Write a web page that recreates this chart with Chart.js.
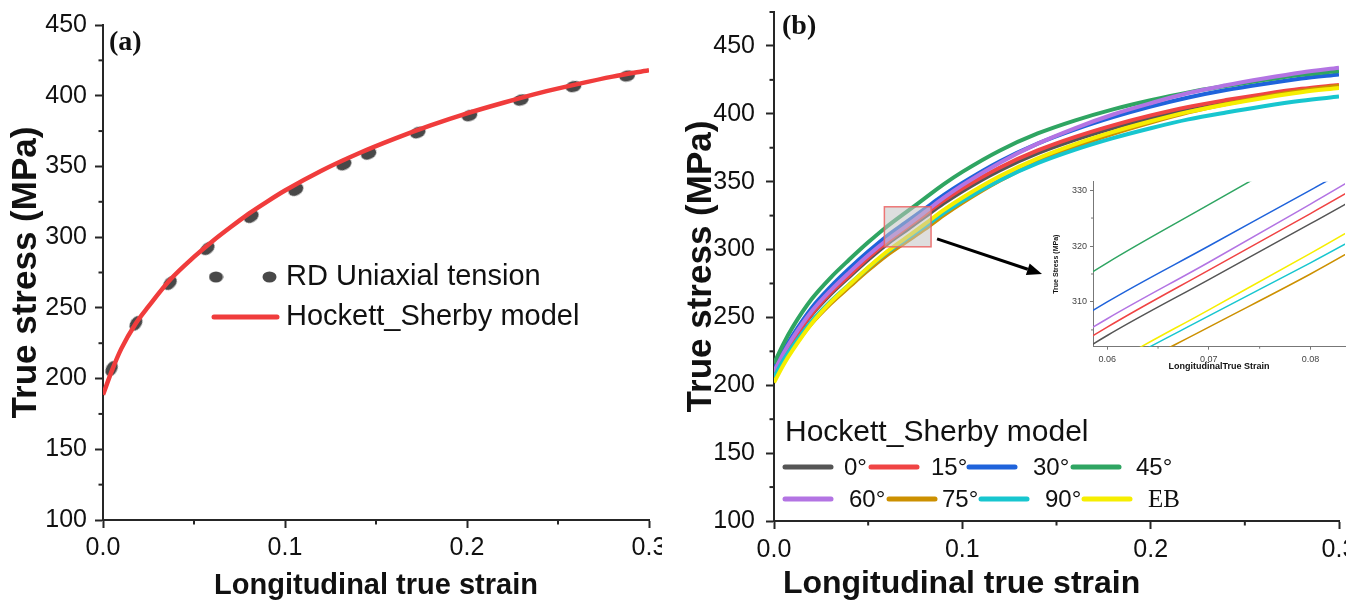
<!DOCTYPE html>
<html>
<head>
<meta charset="utf-8">
<title>True stress - longitudinal true strain</title>
<script src="https://cdn.jsdelivr.net/npm/chart.js@4.4.1/dist/chart.umd.min.js"></script>
<style>
  html, body { margin: 0; padding: 0; background: #fff; }
  body { width: 1365px; height: 603px; position: relative; overflow: hidden; }
  canvas { position: absolute; }
  #chartA { left: 0; top: 0; }
  #chartB { left: 680px; top: 0; }
  #chartInset { left: 1040px; top: 170px; }
</style>
</head>
<body>
<canvas id="chartA" width="662" height="603"></canvas>
<canvas id="chartB" width="666" height="603"></canvas>
<canvas id="chartInset" width="306" height="205"></canvas>
<script>
// (a) RD uniaxial tension: measured points and the Hockett-Sherby fit
const expStrain = [0.0047, 0.0181, 0.0368, 0.0574, 0.0815, 0.106, 0.1324, 0.146, 0.173, 0.2014, 0.2296, 0.2585, 0.288];
const expStress = [207, 239, 267.5, 292, 314.5, 333.5, 351.5, 359, 374, 386, 397, 406.5, 414];
const fitStrain = [0, 0.005, 0.01, 0.018, 0.025, 0.037, 0.05, 0.06, 0.07, 0.08, 0.09, 0.1, 0.12, 0.14, 0.16, 0.18, 0.2, 0.22, 0.24, 0.26, 0.28, 0.3];
const fitStress = [188.5, 206, 221, 239, 251, 270, 286, 297, 307, 316.5, 325, 333, 347, 359, 369.5, 379, 387.5, 395, 402, 408, 413.5, 418];

// (b) Hockett-Sherby curves for each loading direction
const angleStrain = [0, 0.005, 0.01, 0.02, 0.03, 0.04, 0.05, 0.06, 0.07, 0.08, 0.09, 0.1, 0.12, 0.14, 0.16, 0.18, 0.2, 0.22, 0.24, 0.26, 0.28, 0.3];
const stress0  = [209, 222, 233, 252, 267, 280, 292.5, 304, 314, 324, 334, 343, 358.5, 371, 381, 389.5, 396.8, 403.3, 408.5, 413, 417, 420];
const stress15 = [208, 221.5, 233, 252.5, 268, 281, 294, 305.5, 315.7, 325.8, 336, 345, 360.5, 373, 383, 391.5, 398.8, 405.1, 410.1, 414.5, 418.4, 421.3];
const stress30 = [212, 225.5, 237, 257, 272.5, 286, 298.5, 310, 320, 330, 340, 349, 365, 378, 388.5, 397.5, 405.3, 412, 417.5, 422, 426, 429];
const stress45 = [216, 230.5, 243, 263.5, 279.2, 292.6, 305.3, 317, 327.4, 337.7, 348, 357.2, 373, 385.5, 395.2, 403.3, 410, 415.8, 420.5, 424.8, 428.7, 431.6];
const stress60 = [210, 223.5, 235, 254.5, 269.8, 283.2, 295.8, 307, 317.1, 327.5, 338, 347.5, 364, 378, 389.5, 399.5, 407.8, 415.3, 421, 426, 430.5, 434];
const stress75 = [205, 217, 227.5, 245.5, 260, 272.5, 284.7, 295.9, 305.5, 315, 325.2, 334.5, 350.9, 364.5, 375.7, 385.3, 393.6, 401.1, 407.2, 412.4, 417, 420.6];
const stress90 = [206, 218.5, 229, 247.2, 261.7, 274.3, 286.5, 297.8, 307.5, 317, 326.8, 335.8, 351.1, 363.6, 373.6, 382.1, 389.4, 395.9, 401, 405.6, 409.6, 412.7];
const stressEB = [202, 215, 226, 245.5, 261, 274, 286.8, 298.5, 308.6, 318.7, 329, 338.2, 354.2, 367.2, 377.7, 386.7, 394.5, 401.4, 406.9, 411.7, 415.9, 419];
const angleLabels = ['0°', '15°', '30°', '45°', '60°', '75°', '90°', 'EB'];
const angleSeries = [stress0, stress15, stress30, stress45, stress60, stress75, stress90, stressEB];

// axis ranges and ticks
const strainTicks = [0, 0.1, 0.2, 0.3];
const stressRangeA = [100, 450];
const stressRangeB = [100, 475];
const zoomStrain = [0.0586, 0.0834];   // magnified window, shared by box and inset
const zoomStress = [302, 331.5];

const RED = '#f03c3c';
const DOT = '#484848';
const AXIS = '#262626';
const angleColors = ['#555555', '#f04444', '#1f63db', '#2fa562', '#b374e3', '#cc9000', '#17c6cf', '#f6ee00'];

Chart.defaults.font.family = '"Liberation Sans", Arial, Helvetica, sans-serif';
Chart.defaults.color = '#111';

const pts = (xs, ys) => xs.map((x, i) => ({ x, y: ys[i] }));

function makeDot(w, h, color) {
  const c = document.createElement('canvas');
  c.width = w; c.height = h;
  const g = c.getContext('2d');
  g.fillStyle = color;
  g.beginPath();
  g.ellipse(w / 2, h / 2, w / 2 - 0.5, h / 2 - 0.5, 0, 0, Math.PI * 2);
  g.fill();
  return c;
}
const dotImg = makeDot(17, 12, DOT);
const legendDot = makeDot(15, 12, DOT);

// tilt each measured point along the local slope of the curve
function dotRotation(c) {
  const i = c.dataIndex;
  const xs = c.chart.scales.x, ys = c.chart.scales.y;
  if (!xs || !ys) return 0;
  const a = Math.max(i - 1, 0), b = Math.min(i + 1, expStrain.length - 1);
  const dx = xs.getPixelForValue(expStrain[b]) - xs.getPixelForValue(expStrain[a]);
  const dy = ys.getPixelForValue(expStress[b]) - ys.getPixelForValue(expStress[a]);
  return Math.atan2(dy, dx) * 180 / Math.PI;
}

// short ticks between the labelled ones
const minorTicks = {
  id: 'minorTicks',
  afterDraw(chart, args, opts) {
    const { ctx } = chart;
    ctx.save();
    ctx.strokeStyle = opts.color || AXIS;
    ctx.lineWidth = opts.width || 1;
    ['x', 'y'].forEach(id => {
      const scale = chart.scales[id];
      const step = opts[id];
      if (!scale || !step) return;
      const majors = scale.ticks.map(t => t.value);
      const first = Math.ceil(scale.min / step - 1e-9);
      const last = Math.floor(scale.max / step + 1e-9);
      for (let k = first; k <= last; k++) {
        const v = k * step;
        if (majors.some(m => Math.abs(m - v) < step / 100)) continue;
        const p = scale.getPixelForValue(v);
        ctx.beginPath();
        if (id === 'x') { ctx.moveTo(p, scale.top); ctx.lineTo(p, scale.top + opts.length); }
        else { ctx.moveTo(scale.right, p); ctx.lineTo(scale.right - opts.length, p); }
        ctx.stroke();
      }
    });
    ctx.restore();
  }
};
Chart.register(minorTicks);

function panelLabel(text, x, y) {
  return {
    id: 'panelLabel',
    afterDraw(chart) {
      const { ctx } = chart;
      ctx.save();
      ctx.font = 'bold 28px "Liberation Serif", "Times New Roman", serif';
      ctx.fillStyle = '#111';
      ctx.textBaseline = 'middle';
      ctx.fillText(text, x, y);
      ctx.restore();
    }
  };
}

// fixed axis boxes, no extra room for overhanging labels
function noPad(s) { s.paddingTop = s.paddingBottom = s.paddingLeft = s.paddingRight = 0; }

function axes(o) {
  const tickFont = { size: o.tickSize };
  return {
    x: {
      type: 'linear', min: o.xMin, max: o.xMax,
      grid: { drawOnChartArea: false, tickLength: o.tickLen, tickWidth: o.lw, tickColor: o.color },
      border: { color: o.color, width: o.lw },
      ticks: { stepSize: o.xStep, includeBounds: false, padding: o.xPad, maxRotation: 0, font: tickFont, color: o.labelColor, callback: v => v.toFixed(o.xDigits) },
      title: { display: true, text: o.xTitle, align: o.xAlign || 'center', font: { size: o.xTitleSize, weight: 'bold' }, color: '#111', padding: { top: 0, bottom: o.xTitlePad } },
      afterFit: s => { s.height = o.xHeight; noPad(s); }
    },
    y: {
      type: 'linear', min: o.yMin, max: o.yMax,
      grid: { drawOnChartArea: false, tickLength: o.tickLen, tickWidth: o.lw, tickColor: o.color },
      border: { color: o.color, width: o.lw },
      ticks: { stepSize: o.yStep, includeBounds: false, padding: o.yPad, font: tickFont, color: o.labelColor },
      title: { display: true, text: o.yTitle, font: { size: o.yTitleSize, weight: 'bold' }, color: '#111', padding: { top: o.yTitlePad, bottom: 0 } },
      afterFit: s => { s.width = o.yWidth; noPad(s); }
    }
  };
}

// ---------- (a) ----------
const legendA = {
  id: 'legendA',
  afterDraw(chart) {
    const { ctx } = chart;
    const [meas, model] = chart.data.datasets;
    ctx.save();
    ctx.font = '29px "Liberation Sans", Arial, sans-serif';
    ctx.fillStyle = '#111';
    ctx.textBaseline = 'middle';
    [216, 269.5].forEach(x => ctx.drawImage(legendDot, x - legendDot.width / 2, 277 - legendDot.height / 2));
    ctx.fillText(meas.label, 286, 277);
    ctx.strokeStyle = model.borderColor;
    ctx.lineWidth = 5;
    ctx.lineCap = 'round';
    ctx.beginPath(); ctx.moveTo(214, 317); ctx.lineTo(277, 317); ctx.stroke();
    ctx.fillText(model.label, 286, 317);
    ctx.restore();
  }
};

new Chart(document.getElementById('chartA'), {
  type: 'scatter',
  data: {
    datasets: [
      { label: 'RD Uniaxial tension', data: pts(expStrain, expStress), pointStyle: dotImg, rotation: dotRotation, pointRadius: 6, order: 1 },
      { label: 'Hockett_Sherby model', data: pts(fitStrain, fitStress), showLine: true, borderColor: RED, borderWidth: 4.5,
        pointRadius: 0, cubicInterpolationMode: 'monotone', order: 0 }
    ]
  },
  options: {
    responsive: false, animation: false, devicePixelRatio: 1,
    layout: { autoPadding: false, padding: { left: 0, right: 13, top: 25, bottom: 0 } },
    plugins: { legend: { display: false }, tooltip: { enabled: false },
      minorTicks: { x: 0.05, y: 25, length: 4.5, width: 2, color: AXIS } },
    scales: axes({
      xMin: strainTicks[0], xMax: strainTicks[strainTicks.length - 1], xStep: 0.1, xDigits: 1,
      yMin: stressRangeA[0], yMax: stressRangeA[1], yStep: 50,
      tickLen: 8, lw: 2, color: AXIS, labelColor: '#111', tickSize: 25, xPad: 5, yPad: 8,
      xTitle: 'Longitudinal true strain', xTitleSize: 29, xTitlePad: 0, xHeight: 83,
      yTitle: 'True stress (MPa)', yTitleSize: 35, yTitlePad: 5, yWidth: 103
    })
  },
  plugins: [legendA, panelLabel('(a)', 109, 43)]
});

// ---------- (b) ----------
const INSET = { left: 1040, top: 170 };
const B_LEFT = 680;

function angleDatasets(width) {
  return angleSeries.map((s, i) => ({
    label: angleLabels[i], data: pts(angleStrain, s), showLine: true,
    borderColor: angleColors[i], borderWidth: width, pointRadius: 0,
    cubicInterpolationMode: 'monotone', order: angleSeries.length - i
  }));
}

const zoomMarker = {
  id: 'zoomMarker',
  afterDatasetsDraw(chart) {
    const { ctx } = chart;
    const xs = chart.scales.x, ys = chart.scales.y;
    const x0 = xs.getPixelForValue(zoomStrain[0]), x1 = xs.getPixelForValue(zoomStrain[1]);
    const y0 = ys.getPixelForValue(zoomStress[1]), y1 = ys.getPixelForValue(zoomStress[0]);
    ctx.save();
    ctx.fillStyle = 'rgba(195,195,195,0.55)';
    ctx.fillRect(x0, y0, x1 - x0, y1 - y0);
    ctx.strokeStyle = 'rgba(236,96,96,0.85)';
    ctx.lineWidth = 1.5;
    ctx.strokeRect(x0, y0, x1 - x0, y1 - y0);
    // arrow towards the inset
    const sx = x1 + 6, sy = y1 - 8;
    const ex = INSET.left - B_LEFT + 2, ey = INSET.top + 104;
    const ang = Math.atan2(ey - sy, ex - sx);
    const head = 15;
    ctx.strokeStyle = '#000';
    ctx.fillStyle = '#000';
    ctx.lineWidth = 3;
    ctx.beginPath();
    ctx.moveTo(sx, sy);
    ctx.lineTo(ex - head * Math.cos(ang), ey - head * Math.sin(ang));
    ctx.stroke();
    ctx.beginPath();
    ctx.moveTo(ex, ey);
    ctx.lineTo(ex - head * Math.cos(ang) + 6 * Math.sin(ang), ey - head * Math.sin(ang) - 6 * Math.cos(ang));
    ctx.lineTo(ex - head * Math.cos(ang) - 6 * Math.sin(ang), ey - head * Math.sin(ang) + 6 * Math.cos(ang));
    ctx.closePath();
    ctx.fill();
    ctx.restore();
  }
};

// legend laid out in two rows of four under a title
const legendRows = [
  { y: 467, lines: [103, 189, 287, 391], texts: [164, 251, 353, 456] },
  { y: 499, lines: [103, 207, 299, 402], texts: [169, 262, 365, 468] }
];
const legendB = {
  id: 'legendB',
  afterDraw(chart) {
    const { ctx } = chart;
    const sets = chart.data.datasets;
    ctx.save();
    ctx.textBaseline = 'middle';
    ctx.fillStyle = '#111';
    ctx.font = '30px "Liberation Sans", Arial, sans-serif';
    ctx.fillText('Hockett_Sherby model', 105, 433);
    ctx.lineWidth = 5;
    ctx.lineCap = 'round';
    legendRows.forEach((row, r) => {
      row.lines.forEach((lx, c) => {
        const ds = sets[r * 4 + c];
        ctx.strokeStyle = ds.borderColor;
        ctx.beginPath(); ctx.moveTo(lx + 2, row.y); ctx.lineTo(lx + 48, row.y); ctx.stroke();
        ctx.fillStyle = '#111';
        ctx.font = ds.label === 'EB'
          ? '25px "Liberation Serif", "Times New Roman", serif'
          : '24px "Liberation Sans", Arial, sans-serif';
        ctx.fillText(ds.label, row.texts[c], row.y + 1);
      });
    });
    ctx.restore();
  }
};

new Chart(document.getElementById('chartB'), {
  type: 'scatter',
  data: { datasets: angleDatasets(4) },
  options: {
    responsive: false, animation: false, devicePixelRatio: 1,
    layout: { autoPadding: false, padding: { left: 0, right: 7, top: 12, bottom: 0 } },
    plugins: { legend: { display: false }, tooltip: { enabled: false },
      minorTicks: { x: 0.05, y: 25, length: 4.5, width: 2, color: AXIS } },
    scales: axes({
      xMin: strainTicks[0], xMax: strainTicks[strainTicks.length - 1], xStep: 0.1, xDigits: 1,
      yMin: stressRangeB[0], yMax: stressRangeB[1], yStep: 50,
      tickLen: 8, lw: 2, color: AXIS, labelColor: '#111', tickSize: 25, xPad: 6, yPad: 11,
      xTitle: ' Longitudinal true strain', xTitleSize: 32, xTitlePad: 0, xHeight: 82, xAlign: 'start',
      yTitle: 'True stress (MPa)', yTitleSize: 35, yTitlePad: 0, yWidth: 94
    })
  },
  plugins: [zoomMarker, legendB, panelLabel('(b)', 102, 27)]
});

// magnified view of the boxed window
new Chart(document.getElementById('chartInset'), {
  type: 'scatter',
  data: { datasets: angleDatasets(1.5) },
  options: {
    responsive: false, animation: false, devicePixelRatio: 1,
    layout: { autoPadding: false, padding: { left: 0, right: 1, top: 11.7, bottom: 0 } },
    plugins: { legend: { display: false }, tooltip: { enabled: false },
      minorTicks: { x: 0.005, y: 5, length: 2, width: 1, color: '#777' } },
    scales: axes({
      xMin: zoomStrain[0], xMax: zoomStrain[1], xStep: 0.01, xDigits: 2,
      yMin: zoomStress[0], yMax: zoomStress[1], yStep: 10,
      tickLen: 3, lw: 1, color: '#777', labelColor: '#444', tickSize: 9, xPad: 4.9, yPad: 3,
      xTitle: 'LongitudinalTrue Strain', xTitleSize: 9, xTitlePad: 2.9, xHeight: 28.3,
      yTitle: 'True Stress (MPa)', yTitleSize: 7, yTitlePad: 11.8, yWidth: 53
    })
  }
});
</script>
</body>
</html>
